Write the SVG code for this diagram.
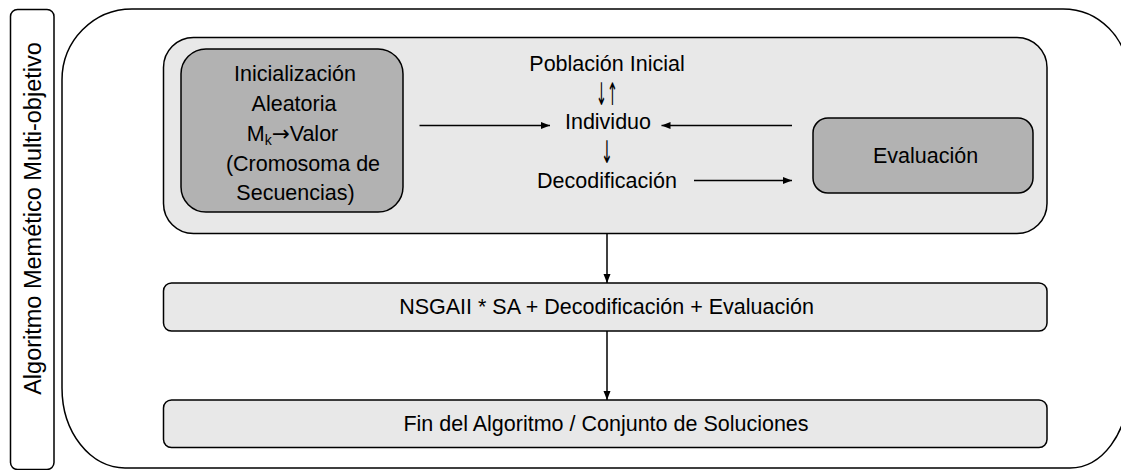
<svg xmlns="http://www.w3.org/2000/svg" width="1121" height="470" viewBox="0 0 1121 470">
<style>
text{font-family:"Liberation Sans",Arial,sans-serif;fill:#000;}
.t{font-size:21.5px;text-anchor:middle;}
.arr{font-family:"DejaVu Sans",sans-serif;}
.big{font-size:31px;}
.light{fill:#e8e8e8;stroke:#000;stroke-width:1.5;}
.dark{fill:#b2b2b2;stroke:#000;stroke-width:1.5;}
.frame{fill:none;stroke:#000;stroke-width:1.5;}
.c{fill:none;stroke:#000;stroke-width:1.5;marker-end:url(#ah);}
</style>
<defs>
<marker id="ah" markerUnits="userSpaceOnUse" markerWidth="10" markerHeight="8" refX="9" refY="3.5" orient="auto">
<path d="M0,0 L9,3.5 L0,7 Z" fill="#000"/>
</marker>
</defs>
<rect width="1121" height="470" fill="#fff"/>
<g id="label">
<rect class="frame" x="10.5" y="9.5" width="43.5" height="460" rx="7"/>
<text transform="translate(41,218.5) rotate(-90)" font-size="23.5" text-anchor="middle">Algoritmo Memético Multi-objetivo</text>
</g>
<g id="outer">
<path class="frame" d="M132,9 H1063 A65,66 0 0 1 1128,75 V390 A58,78 0 0 1 1070,468 H125 A63,80 0 0 1 62,388 V80 A70,71 0 0 1 132,9 Z"/>
</g>
<g id="container">
<rect class="light" x="163.5" y="37.5" width="883.5" height="196" rx="30"/>
</g>
<g id="init">
<rect class="dark" x="181" y="49" width="222" height="163" rx="25"/>
<text class="t" x="295" y="81">Inicialización</text>
<text class="t" x="294" y="111">Aleatoria</text>
<text class="t" x="292.5" y="141">M<tspan font-size="14" dy="4">k</tspan><tspan class="arr" dy="-4">→</tspan>Valor</text>
<text class="t" x="303" y="170.5">(Cromosoma de</text>
<text class="t" x="295.5" y="200">Secuencias)</text>
</g>
<g id="middle">
<text class="t" x="607" y="71">Población Inicial</text>
<text class="t arr big" x="607" y="104.5" textLength="22" lengthAdjust="spacingAndGlyphs">↓↑</text>
<text class="t" x="608" y="129">Individuo</text>
<text class="t arr big" x="607" y="162.5" textLength="12" lengthAdjust="spacingAndGlyphs">↓</text>
<text class="t" x="607" y="187.5">Decodificación</text>
</g>
<g id="eval">
<rect class="dark" x="813" y="118" width="220" height="75" rx="15"/>
<text class="t" x="925.5" y="162.5">Evaluación</text>
</g>
<g id="nsga">
<rect class="light" x="163.5" y="283" width="883.5" height="48" rx="8"/>
<text class="t" x="606.5" y="314">NSGAII * SA + Decodificación + Evaluación</text>
</g>
<g id="fin">
<rect class="light" x="163.5" y="400" width="883.5" height="47.5" rx="8"/>
<text class="t" x="606" y="431">Fin del Algoritmo / Conjunto de Soluciones</text>
</g>
<g id="connectors">
<line class="c" x1="419.5" y1="125.5" x2="550" y2="125.5"/>
<line class="c" x1="792" y1="125.5" x2="661.5" y2="125.5"/>
<line class="c" x1="694" y1="180.5" x2="792" y2="180.5"/>
<line class="c" x1="607" y1="234" x2="607" y2="283"/>
<line class="c" x1="607" y1="331" x2="607" y2="400"/>
</g>
</svg>
